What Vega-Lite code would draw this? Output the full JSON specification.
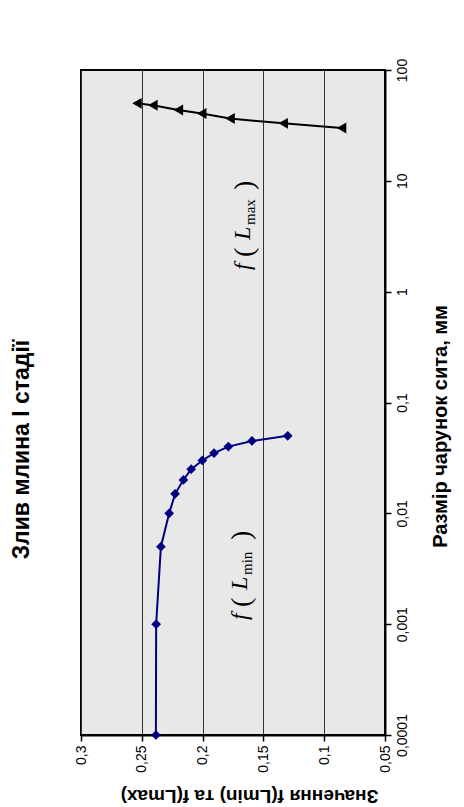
{
  "$schema": "https://vega.github.io/schema/vega-lite/v6.json",
  "width": 304,
  "height": 665,
  "autosize": {"type": "none"},
  "padding": {"left": 81, "top": 70, "right": 79, "bottom": 72},
  "background": "white",
  "title": {
    "text": "Злив млина І стадії",
    "orient": "left",
    "font": "Liberation Sans",
    "fontSize": 23,
    "fontWeight": "bold",
    "color": "black",
    "offset": 40,
    "dx": -47
  },
  "config": {
    "view": {"fill": "#e8e8e8", "stroke": "black", "strokeWidth": 2},
    "axis": {
      "labelFont": "Liberation Sans",
      "labelFontSize": 14,
      "labelColor": "black",
      "titleFont": "Liberation Sans",
      "titleColor": "black",
      "titleFontWeight": "bold",
      "domainColor": "black",
      "domainWidth": 2,
      "tickColor": "black",
      "tickWidth": 1.5,
      "tickSize": 6
    }
  },
  "datasets": {
    "series": [
      {"series": "min", "s": 0.0001, "v": 0.2384},
      {"series": "min", "s": 0.001, "v": 0.2382},
      {"series": "min", "s": 0.005, "v": 0.2343},
      {"series": "min", "s": 0.01, "v": 0.2275},
      {"series": "min", "s": 0.015, "v": 0.2226},
      {"series": "min", "s": 0.02, "v": 0.2158},
      {"series": "min", "s": 0.025, "v": 0.2094},
      {"series": "min", "s": 0.03, "v": 0.2002},
      {"series": "min", "s": 0.035, "v": 0.1906},
      {"series": "min", "s": 0.04, "v": 0.1788},
      {"series": "min", "s": 0.045, "v": 0.1594},
      {"series": "min", "s": 0.05, "v": 0.130},
      {"series": "max", "s": 30, "v": 0.0857},
      {"series": "max", "s": 33, "v": 0.1337},
      {"series": "max", "s": 36.5, "v": 0.1774},
      {"series": "max", "s": 40.5, "v": 0.2007},
      {"series": "max", "s": 43.5, "v": 0.2199},
      {"series": "max", "s": 48, "v": 0.2409},
      {"series": "max", "s": 50, "v": 0.254}
    ],
    "labels": [
      {"sub": "max", "s": 1.57, "v": 0.161},
      {"sub": "min", "s": 0.00109, "v": 0.1635}
    ]
  },
  "encoding": {
    "x": {
      "field": "v",
      "type": "quantitative",
      "scale": {"domain": [0.05, 0.3], "reverse": true, "zero": false, "nice": false},
      "axis": {
        "values": [0.3, 0.25, 0.2, 0.15, 0.1, 0.05],
        "labelExpr": "replace(format(datum.value, '.2~f'), '.', ',')",
        "labelAngle": -90,
        "labelPadding": 4,
        "grid": true,
        "gridColor": "#333333",
        "gridWidth": 1,
        "title": "Значення f(Lmin) та f(Lmax)",
        "titleFontSize": 19,
        "titleAngle": 180,
        "titleX": 168,
        "titleY": 60,
        "titleAlign": "center",
        "titleBaseline": "middle"
      }
    },
    "y": {
      "field": "s",
      "type": "quantitative",
      "scale": {"type": "log", "domain": [0.0001, 100], "nice": false},
      "axis": {
        "orient": "right",
        "values": [0.0001, 0.001, 0.01, 0.1, 1, 10, 100],
        "labelExpr": "replace(format(datum.value, '~g'), '.', ',')",
        "labelAngle": -90,
        "labelPadding": 4,
        "grid": false,
        "title": "Размір чарунок сита, мм",
        "titleFontSize": 20,
        "titleAngle": -90,
        "titleX": 55,
        "titleY": 356,
        "titleAlign": "center",
        "titleBaseline": "middle"
      }
    }
  },
  "layer": [
    {
      "data": {"name": "series"},
      "mark": {"type": "line", "strokeWidth": 2},
      "encoding": {
        "color": {"field": "series", "type": "nominal", "scale": {"domain": ["min", "max"], "range": ["#000080", "#000000"]}, "legend": null},
        "order": {"field": "s", "type": "quantitative"}
      }
    },
    {
      "data": {"name": "series"},
      "mark": {"type": "point", "filled": true, "opacity": 1},
      "encoding": {
        "color": {"field": "series", "type": "nominal", "scale": {"domain": ["min", "max"], "range": ["#000080", "#000000"]}, "legend": null},
        "shape": {"field": "series", "type": "nominal", "scale": {"domain": ["min", "max"], "range": ["diamond", "triangle-left"]}, "legend": null},
        "size": {"field": "series", "type": "nominal", "scale": {"domain": ["min", "max"], "range": [95, 120]}, "legend": null}
      }
    },
    {
      "data": {"name": "labels"},
      "mark": {"type": "text", "text": "f", "font": "Liberation Serif", "fontStyle": "italic", "fontSize": 24, "angle": -90, "align": "left", "baseline": "alphabetic", "dx": 0, "color": "black"}
    },
    {
      "data": {"name": "labels"},
      "mark": {"type": "text", "text": "(", "font": "Liberation Serif", "fontSize": 28, "angle": -90, "align": "left", "baseline": "alphabetic", "dx": 13, "dy": 3, "color": "black"}
    },
    {
      "data": {"name": "labels"},
      "mark": {"type": "text", "text": "L", "font": "Liberation Serif", "fontStyle": "italic", "fontSize": 24, "angle": -90, "align": "left", "baseline": "alphabetic", "dx": 30, "color": "black"}
    },
    {
      "data": {"name": "labels"},
      "mark": {"type": "text", "font": "Liberation Serif", "fontSize": 15, "angle": -90, "align": "left", "baseline": "alphabetic", "dx": 45, "dy": 5, "color": "black"},
      "encoding": {"text": {"field": "sub", "type": "nominal"}}
    },
    {
      "data": {"name": "labels"},
      "mark": {"type": "text", "text": ")", "font": "Liberation Serif", "fontSize": 28, "angle": -90, "align": "left", "baseline": "alphabetic", "dx": 80, "dy": 3, "color": "black"}
    }
  ]
}
